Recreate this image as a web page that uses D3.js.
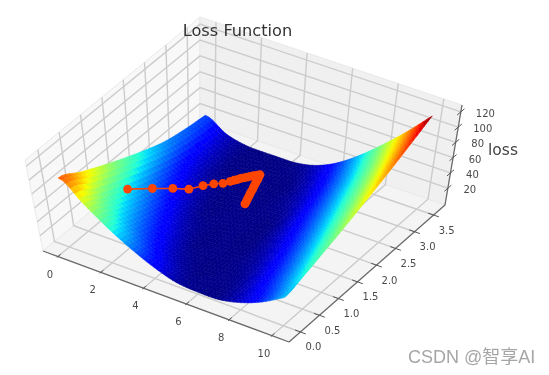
<!DOCTYPE html>
<html><head><meta charset="utf-8">
<script src="https://cdn.jsdelivr.net/npm/d3@7/dist/d3.min.js"></script>
<style>html,body{margin:0;padding:0;background:#fff}svg{display:block}</style></head>
<body><svg id="c" width="549" height="375"></svg>
<script>
// ---- data ----
const xGrid = [0,1,2,3,4,5,6,7,8,9,10];
const yGrid = [0,0.507,1.014,1.521,2.029,2.536,3.043,3.55];
const loss0  = [96,80.3,65.8,52.7,40.8,31,25.5,22];
const loss1  = [70,55,42,31,21.6,14,10,7];
const loss2  = [46.5,34,23.5,14.6,7.6,3,1.5,1];
const loss3  = [28,18,9.8,3.5,1,1,0.8,0.5];
const loss4  = [13.5,6,1.5,1,1,1,0.8,0.5];
const loss5  = [3.5,1,1,1,1,1,1.5,5];
const loss6  = [1,1,1,1,2,5.5,10,17];
const loss7  = [1.4,2.4,4.8,8.4,13.4,19,26,36];
const loss8  = [8.2,11.6,16.4,22.4,29.5,37.5,47,60];
const loss9  = [20,25.9,33,41.3,50.5,61,73,87];
const loss10 = [37,45,54.5,65,76.5,89,103,118];
const lossRows = [loss0,loss1,loss2,loss3,loss4,loss5,loss6,loss7,loss8,loss9,loss10];
const pathW = [0.92,1.24,1.57,1.91,2.12,2.37,2.64,2.80,2.88,2.96,3.03,3.11,3.19,3.27,3.35,3.45,3.53,3.58,3.64,3.69,3.74,3.79,3.85,3.90,3.95,4.01,4.06,4.12,4.17];
const pathB = [1.08,1.51,1.84,2.06,2.31,2.45,2.54,2.64,2.69,2.73,2.78,2.82,2.86,2.90,2.94,2.98,3.01,2.95,2.89,2.82,2.76,2.70,2.64,2.57,2.51,2.45,2.39,2.32,2.26];
const pathL = [40,25,14,7,3,2,1.5,1.5,1.5,1.5,1.5,1.5,1.5,1.5,1.5,1.5,1.5,1.5,1.5,1.5,1.5,1.5,1.5,1.5,1.5,1.5,1.5,1.5,1.5];
const xTicks = [0,2,4,6,8,10];
const yTicks = [0,0.5,1,1.5,2,2.5,3,3.5];
const zTicks = [20,40,60,80,100,120];
const xLim = [-0.7,10.8], yLim = [-0.3,3.8], zLim = [-2,129];
const jetStops = [0,.11,.125,.34,.375,.5,.64,.66,.89,.91,1];
const jetColors = ["#00007f","#0000ff","#0000ff","#00dcfe","#1fffd8","#7cff79","#f6fe00","#ffea00","#ff1400","#ef0000","#7f0000"];
const titleText = "Loss Function", zLabel = "loss", mark = "CSDN @智享AI";

// ---- projection: box corners on the page ----
const sx = d3.scaleLinear().domain(xLim).range([0,1]);
const sy = d3.scaleLinear().domain(yLim).range([0,1]);
const sz = d3.scaleLinear().domain(zLim).range([0,1]);
const C = { // [x][y][z]
 "000":[43,251],"100":[289,342],"110":[445,205],"010":[200,121],
 "001":[25,160],"101":[295,247],"111":[462,105],"011":[200,17]};
function P(x,y,z){
  const u=sx(x),v=sy(y),w=sz(z);let X=0,Y=0;
  for(const a of [0,1])for(const b of [0,1])for(const c of [0,1]){
    const k=(a?u:1-u)*(b?v:1-v)*(c?w:1-w),p=C[""+a+b+c];X+=k*p[0];Y+=k*p[1];}
  return [X,Y];
}
const svg = d3.select("#c");
const defs = svg.append("defs");
defs.append("filter").attr("id","soft").attr("x","-5%").attr("y","-5%").attr("width","110%").attr("height","110%")
  .append("feGaussianBlur").attr("stdDeviation",0.55);
const g = svg.append("g").attr("filter","url(#soft)");
const line = d3.line();
const X0=xLim[0],X1=xLim[1],Y0=yLim[0],Y1=yLim[1],Z0=zLim[0],Z1=zLim[1];

// panes
const pane=(pts,f)=>g.append("path").attr("d",line(pts)+"Z").attr("fill",f).attr("stroke","#e9e9e9").attr("stroke-width",1);
pane([P(X0,Y0,Z0),P(X0,Y1,Z0),P(X0,Y1,Z1),P(X0,Y0,Z1)],"#f8f8f8");
pane([P(X0,Y1,Z0),P(X1,Y1,Z0),P(X1,Y1,Z1),P(X0,Y1,Z1)],"#f0f0f0");
pane([P(X0,Y0,Z0),P(X1,Y0,Z0),P(X1,Y1,Z0),P(X0,Y1,Z0)],"#f4f4f4");

// grid
const gridLine=pts=>g.append("path").attr("d",line(pts)).attr("fill","none").attr("stroke","#cccccc").attr("stroke-width",1.4);
xTicks.forEach(x=>gridLine([P(x,Y0,Z0),P(x,Y1,Z0),P(x,Y1,Z1)]));
yTicks.forEach(y=>gridLine([P(X1,y,Z0),P(X0,y,Z0),P(X0,y,Z1)]));
zTicks.forEach(z=>gridLine([P(X0,Y0,z),P(X0,Y1,z),P(X1,Y1,z)]));

// axes
const axisLine=(a,b)=>g.append("path").attr("d",line([a,b])).attr("fill","none").attr("stroke","#6a6a6a").attr("stroke-width",1.3);
axisLine(P(X0,Y0,Z0),P(X1,Y0,Z0));
axisLine(P(X1,Y0,Z0),P(X1,Y1,Z0));
axisLine(P(X1,Y1,Z0),P(X1,Y1,Z1));
const tick=(a,b)=>g.append("path").attr("d",line([a,b])).attr("stroke","#555").attr("stroke-width",1).attr("fill","none");
const lab=(t,p,dx,dy)=>g.append("text").attr("x",p[0]+dx).attr("y",p[1]+dy).attr("text-anchor","middle")
  .attr("dominant-baseline","central").attr("font-family","DejaVu Sans").attr("font-size",10).attr("fill","#4a4a4a").text(t);
xTicks.forEach(x=>{tick(P(x,Y0-0.03,Z0),P(x,Y0+0.07,Z0));lab(x,P(x,Y0,Z0),-8,17.5);});
yTicks.forEach(y=>{tick(P(X1-0.25,y,Z0),P(X1+0.25,y,Z0));lab(d3.format(".1f")(y),P(X1,y,Z0),13,15);});
zTicks.forEach(z=>{tick(P(X1,Y1-0.09,z),P(X1,Y1+0.09,z));lab(z,P(X1,Y1,z),z>=100?24.5:22,1.5);});

// surface
const jet=d3.scaleLinear().domain(jetStops).range(jetColors).interpolate(d3.interpolateRgb).clamp(true);
const zMax=d3.max(lossRows,r=>d3.max(r));
function cr(a,b,c,d,t){return 0.5*((2*b)+(-a+c)*t+(2*a-5*b+4*c-d)*t*t+(-a+3*b-3*c+d)*t*t*t);}
const at=(i,j)=>{const I=Math.max(0,Math.min(xGrid.length-1,i)),J=Math.max(0,Math.min(yGrid.length-1,j));
  // linear extension past the edge of the table
  return lossRows[I][J]+(i-I)*(lossRows[I][J]-lossRows[Math.max(0,Math.min(xGrid.length-1,I-(i-I)))][J])
   +(j-J)*(lossRows[I][J]-lossRows[I][Math.max(0,Math.min(yGrid.length-1,J-(j-J)))]);};
const dxG=(xGrid[xGrid.length-1]-xGrid[0])/(xGrid.length-1),dyG=(yGrid[yGrid.length-1]-yGrid[0])/(yGrid.length-1);
function Zv(x,y){
  const fx=x/dxG,fy=y/dyG;
  const i=Math.min(xGrid.length-2,Math.floor(fx)),j=Math.min(yGrid.length-2,Math.floor(fy));
  const t=fx-i,s=fy-j,col=[];
  for(let k=-1;k<=2;k++)col.push(cr(at(i+k,j-1),at(i+k,j),at(i+k,j+1),at(i+k,j+2),s));
  return Math.max(0.5,cr(col[0],col[1],col[2],col[3],t));
}
const sub=6,NX=(xGrid.length-1)*sub,NY=(yGrid.length-1)*sub;
const xv=d3.scaleLinear().domain([0,NX]).range(d3.extent(xGrid));
const yv=d3.scaleLinear().domain([0,NY]).range(d3.extent(yGrid));
const quads=[];
for(let j=NY-1;j>=0;j--)for(let i=0;i<NX;i++){
  const x0=xv(i),x1=xv(i+1),y0=yv(j),y1=yv(j+1);
  const zs=[[x0,y0],[x1,y0],[x1,y1],[x0,y1]].map(p=>[p[0],p[1],Zv(p[0],p[1])]);
  quads.push({pts:zs.map(p=>P(p[0],p[1],p[2])),z:d3.mean(zs,p=>p[2])});
}
g.append("g").selectAll("path").data(quads).join("path")
  .attr("d",d=>line(d.pts)+"Z").attr("fill",d=>jet(d.z/zMax)).attr("stroke",d=>jet(d.z/zMax)).attr("stroke-width",0.6);

// descent path
const pathPts=pathW.map((w,i)=>P(w,pathB[i],pathL[i]));
g.append("path").attr("d",line(pathPts)).attr("fill","none").attr("stroke","#ff4500").attr("stroke-width",1.6);
g.append("g").selectAll("circle").data(pathPts).join("circle")
  .attr("cx",d=>d[0]).attr("cy",d=>d[1]).attr("r",4.4).attr("fill","#ff4500");

// text
g.append("text").attr("x",237.5).attr("y",36).attr("text-anchor","middle").attr("font-family","DejaVu Sans")
  .attr("font-size",16.2).attr("fill","#333").text(titleText);
g.append("text").attr("x",503).attr("y",155).attr("text-anchor","middle").attr("font-family","DejaVu Sans")
  .attr("font-size",15.5).attr("fill","#444").text(zLabel);
g.append("text").attr("x",408).attr("y",363).attr("font-family","'Liberation Sans','Noto Sans CJK SC'")
  .attr("font-size",18).attr("fill","#a6a6a6").text(mark);
</script></body></html>
